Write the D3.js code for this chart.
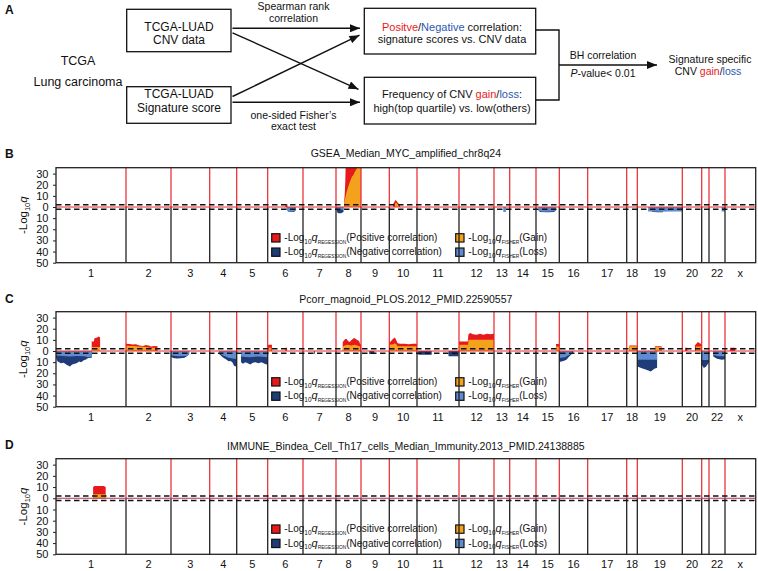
<!DOCTYPE html>
<html><head><meta charset="utf-8">
<script src="https://cdn.jsdelivr.net/npm/d3@7"></script>
<style>
body{margin:0;background:#fff}
svg{display:block}
text{font-family:"Liberation Sans",Arial,sans-serif;fill:#111}
</style>
</head><body>
<svg id="c" width="758" height="571"></svg>
<script>
// ---------------- DATA ----------------
const chromNames = ['1','2','3','4','5','6','7','8','9','10','11','12','13','14','15','16','17','18','19','20','21','22','x'];
// relative chromosome sizes (number of segments)
const chromSizes = [70,45,38.7,27,31,35.3,33,25,28.3,27.7,42,35,15.7,26.3,23.3,28.4,39,10.6,45,19.4,7.3,16,30.7];
const chromLabels = ['1','2','3','4','5','6','7','8','9','10','11','12','13','14','15','16','17','18','19','20','','22','x'];
const yTicks = [30,20,10,0,-10,-20,-30,-40,-50];
const qThreshold = 2; // -log10(0.01)
const panelLetters = ['B','C','D'];
const panelTitles = ['GSEA_Median_MYC_amplified_chr8q24','Pcorr_magnoid_PLOS.2012_PMID.22590557','IMMUNE_Bindea_Cell_Th17_cells_Median_Immunity.2013_PMID.24138885'];

// segments: [chromosome, [[fraction within chromosome, -log10 q], ...]]
const bPosReg = [
  ['6', [[0.50,2.5],[0.56,2.5]]],
  ['8', [[0.33,6],[0.35,12],[0.37,22],[0.39,40],[0.98,40]]],
  ['10', [[0.14,2.5],[0.18,4.5],[0.22,6.3],[0.26,5.5],[0.30,4],[0.34,3],[0.39,2.5]]]
];
const bGain = [
  ['8', [[0.33,4],[0.38,9],[0.43,14],[0.50,19],[0.56,23],[0.63,27],[0.70,29],[0.76,32],[0.82,34],[0.86,40],[0.97,40]]],
  ['10', [[0.20,2.5],[0.24,4],[0.30,2.5],[0.35,2.5]]]
];
const bNegReg = [
  ['6', [[0.54,2],[0.60,4.5],[0.75,4.5],[0.79,3]]],
  ['8', [[0.03,4],[0.08,5.7],[0.20,5.5],[0.30,4.5]]],
  ['15', [[0.15,4.5],[0.50,4.8],[0.80,4.5]]],
  ['19', [[0.33,4.5],[0.37,4.5],[0.44,4.8],[0.57,4.8]]]
];
const bLoss = [
  ['6', [[0.54,2.5],[0.58,4.5],[0.72,4],[0.79,3.5]]],
  ['8', [[0.05,2.5],[0.28,2.5]]],
  ['13', [[0.59,4.5],[0.76,4.5]]],
  ['15', [[0.10,3.5],[0.30,4.2],[0.60,4],[0.86,3.5]]],
  ['19', [[0.24,4],[0.50,4.2],[0.80,4],[1.0,4]]],
  ['22', [[0.79,4],[1.0,4]]]
];

const cPosReg = [
  ['1', [[0.51,8.6],[0.54,8.6],[0.55,11.5],[0.58,12],[0.61,13],[0.63,12.2]]],
  ['2', [[0,6.5],[0.08,6.2],[0.15,5.8],[0.22,6],[0.30,5],[0.38,4.5],[0.44,5.5],[0.50,5],[0.56,4],[0.62,4.5],[0.70,4.2]]],
  ['6', [[0.01,5.7],[0.12,5.7]]],
  ['6', [[0.50,3],[0.55,3]]],
  ['8', [[0.27,8],[0.32,9.5],[0.36,10.5],[0.42,11],[0.48,9],[0.55,8],[0.60,9.5],[0.66,10.5],[0.72,11.6],[0.78,11],[0.85,10],[0.92,9],[0.97,6],[1,6]]],
  ['10', [[0,7.2],[0.08,9.5],[0.14,11],[0.20,12.2],[0.25,10],[0.30,7],[0.40,6.5],[0.55,6.5],[0.70,6],[0.85,6.5],[1,6.5]]],
  ['12', [[0,8.6],[0.25,8.6],[0.27,15],[0.32,16.2],[0.40,15],[0.50,14.5],[0.60,15.5],[0.70,14.5],[0.80,15.5],[0.90,15],[1,15.5]]],
  ['15', [[0.86,6.3],[1,6.3]]],
  ['18', [[0.25,5],[0.95,5]]],
  ['19', [[0.39,4.2],[0.54,4.2]]],
  ['20', [[0.14,3],[0.26,3]]],
  ['20', [[0.65,5],[0.80,8.1],[0.90,7],[1,6]]],
  ['x', [[0.16,3],[0.33,3]]]
];
const cGain = [
  ['1', [[0.51,3.6],[0.63,3.6]]],
  ['2', [[0,4.8],[0.15,4.5],[0.30,4],[0.45,3.5],[0.55,3],[0.65,3]]],
  ['6', [[0.01,3],[0.10,3]]],
  ['8', [[0.27,4],[0.35,5],[0.45,5.6],[0.60,5],[0.75,5.6],[0.85,5],[0.96,4]]],
  ['10', [[0,5.6],[0.15,6],[0.20,7],[0.25,6],[0.30,4.2],[1,4.2]]],
  ['12', [[0,5.6],[0.26,5.6],[0.27,10.1],[1,10.1]]],
  ['15', [[0.86,4],[1,4]]],
  ['18', [[0.25,4.2],[0.95,4.2]]],
  ['19', [[0.39,3.5],[0.54,3.5]]],
  ['20', [[0.70,4],[1,4]]]
];
const cNegReg = [
  ['1', [[0,6],[0.02,9.3],[0.07,11],[0.11,10.5],[0.15,12.3],[0.20,13.8],[0.23,12],[0.27,11.5],[0.30,10.8],[0.33,9.5],[0.36,10],[0.39,8.5],[0.42,7.8],[0.46,6.3],[0.51,6]]],
  ['3', [[0,5],[0.05,6.3],[0.15,6.8],[0.25,6.5],[0.35,6],[0.42,4.5],[0.47,3]]],
  ['4', [[0.36,3],[0.45,5],[0.52,6.3],[0.60,7.5],[0.70,9.3],[0.78,9],[0.85,10.5],[0.90,13.2],[0.96,13.8],[1,12]]],
  ['5', [[0.14,10],[0.20,11.5],[0.28,10],[0.36,11],[0.44,12],[0.52,10.5],[0.60,10],[0.70,11],[0.80,10],[0.90,11.5],[0.97,12],[1,12]]],
  ['7', [[0.33,2.5],[0.36,2.5]]],
  ['9', [[0.29,2.7],[0.47,2.7]]],
  ['11', [[0.03,3.3],[0.35,3.3]]],
  ['11', [[0.75,4.8],[0.99,4.8]]],
  ['16', [[0,9.9],[0.15,9],[0.25,7.8],[0.35,5],[0.45,2.5],[0.49,2]]],
  ['19', [[0,13.8],[0.10,15.5],[0.20,16.8],[0.30,18.3],[0.38,16],[0.44,15]]],
  ['21', [[0,12],[0.30,15.3],[0.60,14],[1,10]]],
  ['22', [[0.27,5],[0.50,7],[0.80,7.8],[1,7.5]]]
];
const cLoss = [
  ['1', [[0,4],[0.10,4.5],[0.20,5],[0.30,4.5],[0.40,4.8],[0.46,5.5],[0.51,5]]],
  ['3', [[0,4],[0.20,4.8],[0.40,4.5],[0.47,3]]],
  ['4', [[0.36,2],[0.50,4],[0.70,6],[0.90,7],[1,7]]],
  ['5', [[0.14,5],[0.40,5.5],[0.70,5],[1,5.5]]],
  ['16', [[0,6.3],[0.20,5.5],[0.35,3.5],[0.45,2]]],
  ['19', [[0,7.8],[0.44,7.8]]],
  ['21', [[0,8],[1,8]]],
  ['22', [[0.27,3.5],[0.60,4.8],[1,4.8]]]
];

const dPosReg = [['1', [[0.53,10],[0.55,11],[0.68,11],[0.71,10]]]];
const dGain = [['1', [[0.53,3.6],[0.71,3.6]]]];
const dNegReg = [];
const dLoss = [];

// ---------------- STYLE / LAYOUT ----------------
const COL = {red:'#e8191c', orange:'#f4a21e', navy:'#1f3c78', lblue:'#5f8bd0', line:'#e8262a'};
const svg = d3.select('#c');
const FONT = '"Liberation Sans",Arial,sans-serif';

// ---------- Panel A ----------
const A = svg.append('g');
A.append('text').attr('x',5).attr('y',14).attr('font-size',12).attr('font-weight','bold').text('A');
function ctext(x,y,str,size){
  return A.append('text').attr('x',x).attr('y',y+size*0.35).attr('text-anchor','middle').attr('font-size',size).text(str);
}
ctext(78,61,'TCGA',12.5);
ctext(78,81.7,'Lung carcinoma',12.5);
const boxes = [[126.7,9.3,104.3,42.4],[126.7,86.7,104.3,36.6],[364.3,8.3,171.4,45.7],[364.3,77.3,171.4,46.7]];
boxes.forEach(b=>A.append('rect').attr('x',b[0]).attr('y',b[1]).attr('width',b[2]).attr('height',b[3]).attr('fill','none').attr('stroke','#111').attr('stroke-width',1.3));
ctext(179,26.7,'TCGA-LUAD',12); ctext(179,40,'CNV data',12);
ctext(179,94,'TCGA-LUAD',12); ctext(179,107.7,'Signature score',12);
// box 3
const t3 = A.append('text').attr('x',452).attr('y',26.7+3.9).attr('text-anchor','middle').attr('font-size',11);
t3.append('tspan').attr('fill','#e8191c').text('Positve');
t3.append('tspan').text('/');
t3.append('tspan').attr('fill','#2b56b0').text('Negative');
t3.append('tspan').text(' correlation:');
ctext(452,39,'signature scores vs. CNV data',11);
const t4 = A.append('text').attr('x',452).attr('y',94.3+3.9).attr('text-anchor','middle').attr('font-size',11);
t4.append('tspan').text('Frequency of CNV ');
t4.append('tspan').attr('fill','#e8191c').text('gain');
t4.append('tspan').text('/');
t4.append('tspan').attr('fill','#2b56b0').text('loss');
t4.append('tspan').text(':');
ctext(452,108.3,'high(top quartile) vs. low(others)',11);
ctext(293.5,6.2,'Spearman rank',10.5);
ctext(293.5,18.5,'correlation',10.5);
ctext(293.5,115,'one-sided Fisher\u2019s',10.5);
ctext(293.5,126.7,'exact test',10.5);
ctext(603,55,'BH correlation',10.5);
const tp = A.append('text').attr('x',603).attr('y',73.3+3.7).attr('text-anchor','middle').attr('font-size',10.5);
tp.append('tspan').attr('font-style','italic').text('P');
tp.append('tspan').text('-value< 0.01');
ctext(710,59,'Signature specific',10.5);
const ts = A.append('text').attr('x',708).attr('y',71.7+3.7).attr('text-anchor','middle').attr('font-size',10.5);
ts.append('tspan').text('CNV ');
ts.append('tspan').attr('fill','#e8191c').text('gain');
ts.append('tspan').text('/');
ts.append('tspan').attr('fill','#2b56b0').text('loss');

// arrows
const defs = svg.append('defs');
defs.append('marker').attr('id','ah').attr('viewBox','0 0 10 8').attr('refX',10).attr('refY',4)
  .attr('markerWidth',11).attr('markerHeight',8).attr('markerUnits','userSpaceOnUse').attr('orient','auto')
  .append('path').attr('d','M0,0L10,4L0,8Z').attr('fill','#111');
const arrows = [[232.5,28.3,360,28.3],[232.5,102.3,360,102.3],[232.5,32.8,358.5,89.3],[232.5,96.5,359.5,35.2],[559,65,657,65]];
arrows.forEach(a=>A.append('line').attr('x1',a[0]).attr('y1',a[1]).attr('x2',a[2]).attr('y2',a[3])
  .attr('stroke','#111').attr('stroke-width',1.4).attr('marker-end','url(#ah)'));
A.append('path').attr('d','M535.7,30H559V100H535.7').attr('fill','none').attr('stroke','#111').attr('stroke-width',1.4);

// ---------- Chromosome panels ----------
const chromStart = [];
chromSizes.reduce((acc,s,i)=>{chromStart[i]=acc; return acc+s;},0);
const genomeLen = d3.sum(chromSizes);
const x = d3.scaleLinear().domain([0,genomeLen]).range([56,755.7]);

const panels = [
  {top:167.7,bottom:262.7,titleY:153.3,letterY:153.5,zeroCol:COL.line,series:[bPosReg,bGain,bNegReg,bLoss]},
  {top:311.7,bottom:406.7,titleY:299,letterY:298.5,zeroCol:COL.line,series:[cPosReg,cGain,cNegReg,cLoss]},
  {top:458.7,bottom:554.3,titleY:446,letterY:445,zeroCol:'#b0305a',series:[dPosReg,dGain,dNegReg,dLoss]}
];

function subLabel(g, x0, y0, tag, tail){
  const t = g.append('text').attr('x',x0).attr('y',y0).attr('font-size',10);
  t.append('tspan').text('-Log');
  t.append('tspan').attr('font-size',6.5).attr('dy',2.5).text('10');
  t.append('tspan').attr('font-size',11).attr('font-style','italic').attr('dy',-2.5).text('q');
  t.append('tspan').attr('font-size',4.8).attr('dy',2.5).text(tag);
  t.append('tspan').attr('dy',-2.5).text(tail);
}

panels.forEach((p,pi)=>{
  const g = svg.append('g');
  const y = d3.scaleLinear().domain([-50,35.3]).range([p.bottom,p.top]);
  const y0 = y(0);
  g.append('text').attr('x',5).attr('y',p.letterY+4.3).attr('font-size',12).attr('font-weight','bold').text(panelLetters[pi]);
  g.append('text').attr('x',(x.range()[0]+x.range()[1])/2).attr('y',p.titleY+3.7).attr('text-anchor','middle').attr('font-size',10.5).text(panelTitles[pi]);

  // legend (beneath lines)
  const lg = g.append('g');
  [[271.7,0,COL.red,'REGESSION','(Positive correlation)'],[271.7,1,COL.navy,'REGESSION','(Negative correlation)'],
   [455.7,0,COL.orange,'FISHER','(Gain)'],[455.7,1,COL.lblue,'FISHER','(Loss)']].forEach(L=>{
    const cy = y0 + 30.8 + L[1]*14.3;
    lg.append('rect').attr('x',L[0]).attr('y',cy-4.1).attr('width',8.3).attr('height',8.3).attr('fill',L[2]).attr('stroke','#111').attr('stroke-width',1.2);
    subLabel(lg, L[0]+12.6, cy+3.3, L[3], L[4]);
  });

  // clip
  const cid = 'clip'+pi;
  defs.append('clipPath').attr('id',cid).append('rect').attr('x',x.range()[0]).attr('y',p.top).attr('width',x.range()[1]-x.range()[0]).attr('height',p.bottom-p.top);
  const dg = g.append('g').attr('clip-path',`url(#${cid})`);
  const cols = [COL.red,COL.orange,COL.navy,COL.lblue];
  const signs = [1,1,-1,-1];
  p.series.forEach((segs,si)=>{
    const area = d3.area().x(d=>x(d[0])).y0(y0).y1(d=>y(signs[si]*d[1]));
    segs.forEach(([c,pts])=>{
      const i = chromNames.indexOf(c);
      const data = pts.map(([f,v])=>[chromStart[i]+f*chromSizes[i], v]);
      dg.append('path').attr('d',area(data)).attr('fill',cols[si]);
    });
  });

  // chromosome boundary lines
  chromStart.slice(1).forEach(s=>{
    g.append('line').attr('x1',x(s)).attr('x2',x(s)).attr('y1',p.top).attr('y2',y0).attr('stroke',COL.line).attr('stroke-width',1.2);
    g.append('line').attr('x1',x(s)).attr('x2',x(s)).attr('y1',y0).attr('y2',p.bottom).attr('stroke','#222').attr('stroke-width',1.3);
  });
  // zero line
  g.append('line').attr('x1',x.range()[0]).attr('x2',x.range()[1]).attr('y1',y0).attr('y2',y0).attr('stroke',p.zeroCol).attr('stroke-width',1.1);
  // threshold dashed lines
  [qThreshold,-qThreshold].forEach(v=>{
    g.append('line').attr('x1',x.range()[0]).attr('x2',x.range()[1]).attr('y1',y(v)).attr('y2',y(v))
      .attr('stroke','#111').attr('stroke-width',1.5).attr('stroke-dasharray','5.5,3.5');
  });
  // frame
  g.append('rect').attr('x',x.range()[0]).attr('y',p.top).attr('width',x.range()[1]-x.range()[0]).attr('height',p.bottom-p.top)
    .attr('fill','none').attr('stroke','#222').attr('stroke-width',1.3);

  // y axis
  const ax = g.append('g').attr('transform',`translate(${x.range()[0]},0)`)
    .call(d3.axisLeft(y).tickValues(yTicks).tickFormat(d=>Math.abs(d)).tickSize(3).tickPadding(4.5));
  ax.select('.domain').remove();
  ax.selectAll('line').attr('stroke','#222');
  ax.selectAll('text').attr('font-size',11).attr('font-family',FONT).attr('fill','#111');

  // y title
  const ymid = (p.top+p.bottom)/2;
  const yt = g.append('text').attr('transform',`translate(27,${ymid}) rotate(-90)`).attr('text-anchor','middle').attr('font-size',11.5);
  yt.append('tspan').text('-Log');
  yt.append('tspan').attr('font-size',7.5).attr('dy',3).text('10');
  yt.append('tspan').attr('font-style','italic').attr('dy',-3).text('q');

  // chromosome labels
  chromLabels.forEach((lab,i)=>{
    if(!lab) return;
    g.append('text').attr('x',x(chromStart[i]+chromSizes[i]/2)).attr('y',p.bottom+14).attr('text-anchor','middle').attr('font-size',11).text(lab);
  });
});
</script>
</body></html>
